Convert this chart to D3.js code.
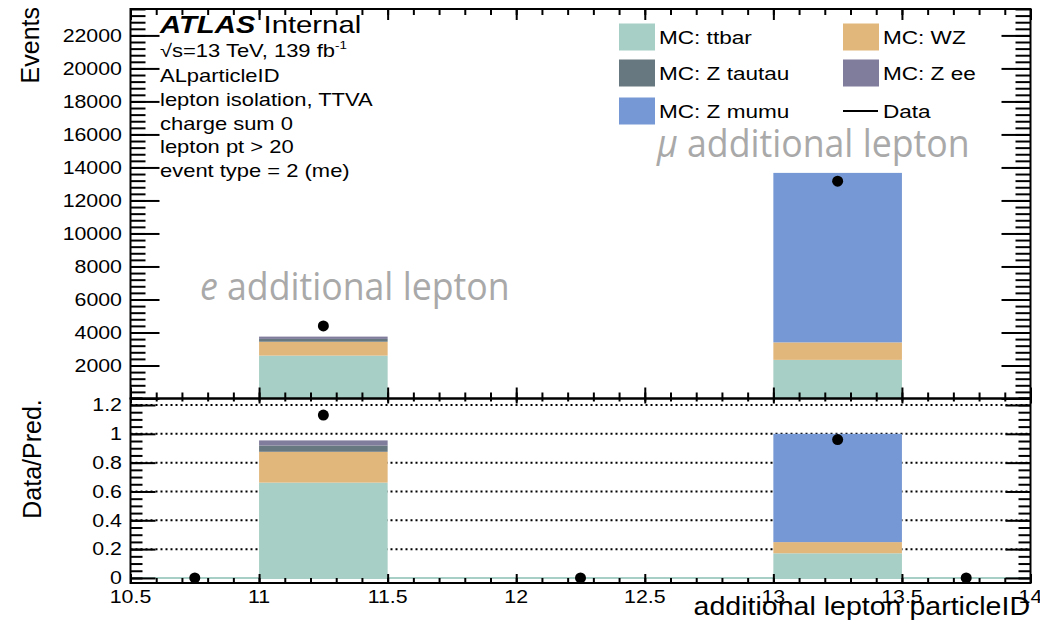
<!DOCTYPE html>
<html>
<head>
<meta charset="utf-8">
<script src="https://cdn.jsdelivr.net/npm/d3@7"></script>
<style>
  body { margin: 0; background: #fff; }
  svg { display: block; }
</style>
</head>
<body>
<div id="chart"></div>
<script>
// ---- data ----
const binLo = [11, 13];
const binHi = [11.5, 13.5];
const ttbar   = [2600, 2340];
const wz      = [840, 1060];
const ztautau = [170, 0];
const zee     = [140, 0];
const zmumu   = [0, 10270];
const predTotal = [3930, 13670];   // denominator used in the ratio pad

const dataX      = [10.75, 11.25, 12.25, 13.25, 13.75];
const dataEvents = [0, 4400, 0, 13170, 0];
const dataRatio  = [0, 1.13, 0, 0.96, 0];

const yTickLabels = [2000, 4000, 6000, 8000, 10000, 12000, 14000, 16000, 18000, 20000, 22000];
const rTickLabels = ["0", "0.2", "0.4", "0.6", "0.8", "1", "1.2"];
const xTickLabels = ["10.5", "11", "11.5", "12", "12.5", "13", "13.5", "14"];

const samples = [
    { name: "MC: ttbar",     values: ttbar,   color: "#a7cfc5" },
    { name: "MC: WZ",        values: wz,      color: "#e2b77c" },
    { name: "MC: Z tautau",  values: ztautau, color: "#687880" },
    { name: "MC: Z ee",      values: zee,     color: "#807c9c" },
    { name: "MC: Z mumu",    values: zmumu,   color: "#7698d4" }
];

const infoLines = ["ALparticleID", "lepton isolation, TTVA", "charge sum 0", "lepton pt > 20", "event type = 2 (me)"];

// ---- layout ----
const width = 1040, height = 622;
const left = 130.5, right = 1030.5;
const upTop = 9, split = 398.5, lowBottom = 583;
const rootFont = "'Liberation Sans', Arial, Helvetica, sans-serif";
const sx = 1.22;   // ROOT text in the picture is drawn wide

const svg = d3.select("#chart").append("svg")
    .attr("width", width)
    .attr("height", height)
    .attr("viewBox", [0, 0, width, height]);

const x = d3.scaleLinear().domain([10.5, 14]).range([left, right]);
const y = d3.scaleLinear().domain([0, 23600]).range([split, upTop]);
const yr = d3.scaleLinear().domain([-0.035, 1.245]).range([lowBottom, split]);

function label(parent, px, py, str, opt = {}) {
    const t = parent.append("text")
        .attr("transform", `translate(${px},${py}) scale(${opt.sx ?? sx},1)`)
        .attr("text-anchor", opt.anchor || "start")
        .style("font-family", opt.family || rootFont)
        .style("font-size", (opt.size || 17.5) + "px")
        .style("fill", opt.fill || "#000");
    if (opt.weight) t.style("font-weight", opt.weight);
    if (opt.italic) t.style("font-style", "italic");
    if (opt.dy) t.attr("dy", opt.dy);
    t.text(str);
    return t;
}

function tickSet(axisFn, scale, values, size, tx, ty) {
    const g = svg.append("g").attr("transform", `translate(${tx},${ty})`)
        .call(axisFn(scale).tickValues(values).tickSize(size).tickFormat(""));
    g.select(".domain").remove();
    g.selectAll(".tick line").attr("stroke", "#000").attr("stroke-width", 2);
}

// ratio pad dotted grid
const grid = svg.append("g");
grid.selectAll("line")
    .data(rTickLabels.map(Number))
    .join("line")
    .attr("x1", left).attr("x2", right)
    .attr("y1", d => yr(d)).attr("y2", d => yr(d))
    .attr("stroke", "#000")
    .attr("stroke-width", 2)
    .attr("stroke-dasharray", "2,3");

// stacks in both pads
binLo.forEach((lo, i) => {
    let base = 0;
    samples.forEach(s => {
        const v = s.values[i];
        if (v > 0) {
            svg.append("rect")
                .attr("x", x(lo)).attr("width", x(binHi[i]) - x(lo))
                .attr("y", y(base + v)).attr("height", y(base) - y(base + v))
                .attr("fill", s.color);
            svg.append("rect")
                .attr("x", x(lo)).attr("width", x(binHi[i]) - x(lo))
                .attr("y", yr((base + v) / predTotal[i]))
                .attr("height", yr(base / predTotal[i]) - yr((base + v) / predTotal[i]))
                .attr("fill", s.color);
        }
        base += v;
    });
});

// ttbar ratio line along zero
svg.append("line")
    .attr("x1", left).attr("x2", right)
    .attr("y1", yr(0)).attr("y2", yr(0))
    .attr("stroke", samples[0].color)
    .attr("stroke-width", 2);

// data points
svg.append("g").selectAll("circle")
    .data(dataX.map((d, i) => ({ x: d, v: dataEvents[i] })).filter(d => d.v > 0))
    .join("circle")
    .attr("cx", d => x(d.x)).attr("cy", d => y(d.v)).attr("r", 5.5).attr("fill", "#000");

svg.append("g").selectAll("circle")
    .data(dataX.map((d, i) => ({ x: d, r: dataRatio[i] })))
    .join("circle")
    .attr("cx", d => x(d.x)).attr("cy", d => yr(d.r)).attr("r", 5.5).attr("fill", "#000");

// frames
svg.append("rect").attr("x", left).attr("y", upTop).attr("width", right - left).attr("height", split - upTop)
    .attr("fill", "none").attr("stroke", "#000").attr("stroke-width", 2);
svg.append("rect").attr("x", left).attr("y", split).attr("width", right - left).attr("height", lowBottom - split)
    .attr("fill", "none").attr("stroke", "#000").attr("stroke-width", 2);

// ticks
const xMajor = d3.range(0, 8).map(i => 10.5 + i * 0.5);
const xMinor = d3.range(0, 36).map(i => 10.5 + i * 0.1);
const yMajor = d3.range(0, 12).map(i => i * 2000);
const yMinor = d3.range(0, 60).map(i => i * 400);
const rMajor = d3.range(0, 7).map(i => i * 0.2);
const rMinor = d3.range(0, 26).map(i => i * 0.05);

tickSet(d3.axisLeft, y, yMajor, -29, left, 0);
tickSet(d3.axisLeft, y, yMinor, -15, left, 0);
tickSet(d3.axisRight, y, yMajor, -29, right, 0);
tickSet(d3.axisRight, y, yMinor, -15, right, 0);
tickSet(d3.axisTop, x, xMajor, -11, 0, upTop);
tickSet(d3.axisTop, x, xMinor, -6, 0, upTop);
tickSet(d3.axisBottom, x, xMajor, -11, 0, split);
tickSet(d3.axisBottom, x, xMinor, -6, 0, split);
tickSet(d3.axisTop, x, xMajor, -5, 0, split);
tickSet(d3.axisTop, x, xMinor, -3, 0, split);
tickSet(d3.axisBottom, x, xMajor, -9, 0, lowBottom);
tickSet(d3.axisBottom, x, xMinor, -5, 0, lowBottom);
tickSet(d3.axisLeft, yr, rMajor, -25, left, 0);
tickSet(d3.axisLeft, yr, rMinor, -12, left, 0);
tickSet(d3.axisRight, yr, rMajor, -25, right, 0);
tickSet(d3.axisRight, yr, rMinor, -12, right, 0);

// tick labels
yTickLabels.forEach(v => label(svg, 122, y(v), v, { anchor: "end", dy: "0.36em" }));
rTickLabels.forEach(v => label(svg, 122, yr(+v), v, { anchor: "end", dy: "0.36em" }));
xTickLabels.forEach(v => label(svg, x(+v), 603, v, { anchor: "middle" }));

// axis titles
svg.append("text")
    .attr("transform", "translate(39,7) rotate(-90)")
    .attr("text-anchor", "end")
    .style("font-family", rootFont).style("font-size", "25px")
    .text("Events");
svg.append("text")
    .attr("transform", "translate(41,459) rotate(-90)")
    .attr("text-anchor", "middle")
    .style("font-family", rootFont).style("font-size", "25px")
    .text("Data/Pred.");
label(svg, 1030, 615, "additional lepton particleID", { anchor: "end", size: 25.5, sx: 1.12 });

// ATLAS block
const atl = svg.append("text")
    .attr("transform", `translate(160,33) scale(${sx},1)`)
    .style("font-family", rootFont).style("font-size", "24px");
atl.append("tspan").style("font-weight", "bold").style("font-style", "italic").text("ATLAS");
atl.append("tspan").text(" Internal");

const lumi = svg.append("text")
    .attr("transform", `translate(160,57) scale(${sx},1)`)
    .style("font-family", rootFont).style("font-size", "18px");
lumi.append("tspan").text("\u221As=13 TeV, 139 fb");
lumi.append("tspan").attr("dy", -8).style("font-size", "11px").text("-1");

infoLines.forEach((t, i) => label(svg, 160, 82 + i * 23.8, t, { size: 18 }));

// legend
const legendPos = [
    { s: 0, x: 619, y: 37 }, { s: 1, x: 843, y: 37 },
    { s: 2, x: 619, y: 73 }, { s: 3, x: 843, y: 73 },
    { s: 4, x: 619, y: 111 }
];
legendPos.forEach(p => {
    svg.append("rect").attr("x", p.x).attr("y", p.y - 13.5).attr("width", 36).attr("height", 27)
        .attr("fill", samples[p.s].color);
    label(svg, p.x + 40, p.y + 7, samples[p.s].name, { size: 18.5 });
});
svg.append("line").attr("x1", 843).attr("x2", 878).attr("y1", 111).attr("y2", 111)
    .attr("stroke", "#000").attr("stroke-width", 2);
label(svg, 883, 118, "Data", { size: 18.5 });

// region annotations
const grey = "#a9a9a9";
const eLab = svg.append("text")
    .attr("transform", "translate(200,300) scale(0.915,1)")
    .style("font-family", "'Open Sans', sans-serif").style("font-size", "39px").style("fill", grey);
eLab.append("tspan").style("font-style", "italic").text("e");
eLab.append("tspan").text(" additional lepton");

const muLab = svg.append("text")
    .attr("transform", "translate(657,157) scale(0.915,1)")
    .style("font-family", "'Open Sans', sans-serif").style("font-size", "39px").style("fill", grey);
muLab.append("tspan").style("font-style", "italic").text("\u03BC");
muLab.append("tspan").text(" additional lepton");
</script>
</body>
</html>
